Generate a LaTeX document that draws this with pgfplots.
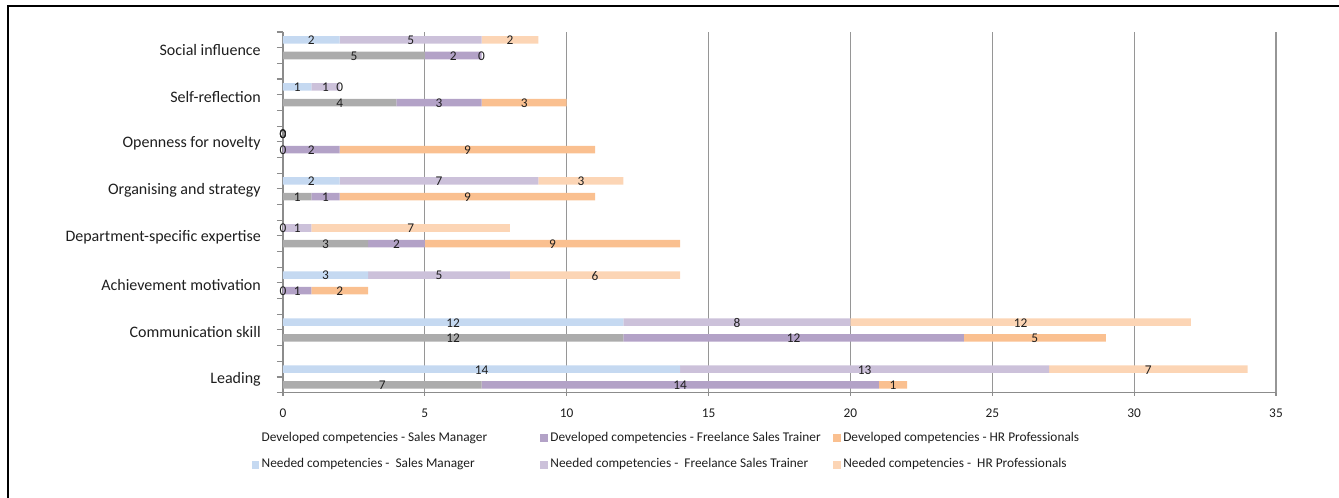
\documentclass[border=0pt]{standalone}
\usepackage{pgfplots}
\pgfplotsset{compat=1.18}
\usepackage{fontspec}
\setmainfont{Carlito}
\definecolor{needSM}{RGB}{197,217,241}
\definecolor{needFST}{RGB}{204,193,218}
\definecolor{needHR}{RGB}{252,213,181}
\definecolor{devSM}{RGB}{172,172,172}
\definecolor{devFST}{RGB}{179,162,199}
\definecolor{devHR}{RGB}{250,192,144}
\definecolor{gridgray}{RGB}{150,150,150}
\definecolor{axisgray}{RGB}{140,140,140}
\definecolor{txt}{RGB}{30,30,30}
\pgfplotsset{
  base/.style={
    scale only axis, width=744.75pt, height=270.5pt,
    xmin=0, xmax=35, ymin=0, ymax=23,
    /pgf/number format/assume math mode=true,
  },
  sq/.style={legend image code/.code={\fill[##1] (0pt,-2.6pt) rectangle (5.2pt,2.6pt);}},
}
\begin{document}
\begin{tikzpicture}
\useasboundingbox (-212.25pt,-78.98pt) rectangle (792pt,294.5pt);
\draw[line width=1.6pt] (-206.5pt,-80pt) -- (-206.5pt,290.2pt) -- (793pt,290.2pt);
% needed competencies (with axis frame)
\begin{axis}[base,
  xbar stacked, bar width=0.48,
  axis lines*=left,
  axis line style={draw=axisgray, line width=0.9pt},
  xtick={0,5,...,35},
  xmajorgrids, grid style={gridgray, line width=0.8pt},
  ytick={1,4,7,10,13,16,19,22},
  yticklabels={Leading, Communication skill, Achievement motivation, Department-specific expertise, Organising and strategy, Openness for novelty, Self-reflection, Social influence},
  minor ytick={0,...,23},
  tick align=outside,
  major tick length=4.5pt, minor tick length=4.5pt,
  tick style={axisgray, line width=0.8pt},
  xtick style={/pgfplots/major tick length=2.5pt},
  y tick label style={font=\fontsize{12}{14}\selectfont, text=txt, inner sep=0pt, yshift=-1.4pt},
  yticklabel shift=12pt,
  x tick label style={font=\fontsize{10}{12}\selectfont, text=txt},
  xticklabel shift=4pt,
]
\addplot[fill=needSM, draw=none] coordinates {(14,1.5) (12,4.5) (3,7.5) (0,10.5) (2,13.5) (0,16.5) (1,19.5) (2,22.5)};
\addplot[fill=needFST, draw=none] coordinates {(13,1.5) (8,4.5) (5,7.5) (1,10.5) (7,13.5) (0,16.5) (1,19.5) (5,22.5)};
\addplot[fill=needHR, draw=none] coordinates {(7,1.5) (12,4.5) (6,7.5) (7,10.5) (3,13.5) (0,16.5) (0,19.5) (2,22.5)};
\end{axis}
% developed competencies
\begin{axis}[base, hide axis, xbar stacked, bar width=0.48]
\addplot[fill=devSM, draw=none] coordinates {(7,0.5) (12,3.5) (0,6.5) (3,9.5) (1,12.5) (0,15.5) (4,18.5) (5,21.5)};
\addplot[fill=devFST, draw=none] coordinates {(14,0.5) (12,3.5) (1,6.5) (2,9.5) (1,12.5) (2,15.5) (3,18.5) (2,21.5)};
\addplot[fill=devHR, draw=none] coordinates {(1,0.5) (5,3.5) (2,6.5) (9,9.5) (9,12.5) (9,15.5) (3,18.5) (0,21.5)};
\end{axis}
% value labels and legend
\begin{axis}[base, hide axis, clip=false,
  legend columns=3,
  legend style={at={(-0.036,-0.095)}, anchor=north west, draw=none, fill=none,
    font=\fontsize{10}{12}\selectfont, text=txt,
    column sep=0pt, row sep=7.2pt,
    cells={anchor=west}},
]
\addplot[forget plot, only marks, mark=*, mark size=0pt, mark options={draw=none, fill=none},
  nodes near coords, nodes near coords align={center}, point meta=explicit symbolic,
  every node near coord/.append style={font=\fontsize{10}{12}\selectfont, text=txt, inner sep=0pt, yshift=-0.5pt}]
coordinates {
 (7,1.5)[14] (20.5,1.5)[13] (30.5,1.5)[7]
 (6,4.5)[12] (16,4.5)[8] (26,4.5)[12]
 (1.5,7.5)[3] (5.5,7.5)[5] (11,7.5)[6]
 (0,10.5)[0] (0.5,10.5)[1] (4.5,10.5)[7]
 (1,13.5)[2] (5.5,13.5)[7] (10.5,13.5)[3]
 (0,16.5)[0] (0,16.5)[0] (0,16.5)[0]
 (0.5,19.5)[1] (1.5,19.5)[1] (2,19.5)[0]
 (1,22.5)[2] (4.5,22.5)[5] (8,22.5)[2]
 (3.5,0.5)[7] (14,0.5)[14] (21.5,0.5)[1]
 (6,3.5)[12] (18,3.5)[12] (26.5,3.5)[5]
 (0,6.5)[0] (0.5,6.5)[1] (2,6.5)[2]
 (1.5,9.5)[3] (4,9.5)[2] (9.5,9.5)[9]
 (0.5,12.5)[1] (1.5,12.5)[1] (6.5,12.5)[9]
 (0,15.5)[0] (1,15.5)[2] (6.5,15.5)[9]
 (2,18.5)[4] (5.5,18.5)[3] (8.5,18.5)[3]
 (2.5,21.5)[5] (6,21.5)[2] (7,21.5)[0]
};
\addlegendimage{sq, white}
\addlegendentry{\makebox[207pt][l]{Developed competencies - Sales Manager}}
\addlegendimage{sq, devFST}
\addlegendentry{\makebox[210pt][l]{Developed competencies - Freelance Sales Trainer}}
\addlegendimage{sq, devHR}
\addlegendentry{\makebox[180pt][l]{Developed competencies - HR Professionals}}
\addlegendimage{sq, needSM}
\addlegendentry{\makebox[207pt][l]{Needed competencies -\ \ Sales Manager}}
\addlegendimage{sq, needFST}
\addlegendentry{\makebox[210pt][l]{Needed competencies -\ \ Freelance Sales Trainer}}
\addlegendimage{sq, needHR}
\addlegendentry{\makebox[180pt][l]{Needed competencies -\ \ HR Professionals}}
\end{axis}
\end{tikzpicture}
\end{document}
